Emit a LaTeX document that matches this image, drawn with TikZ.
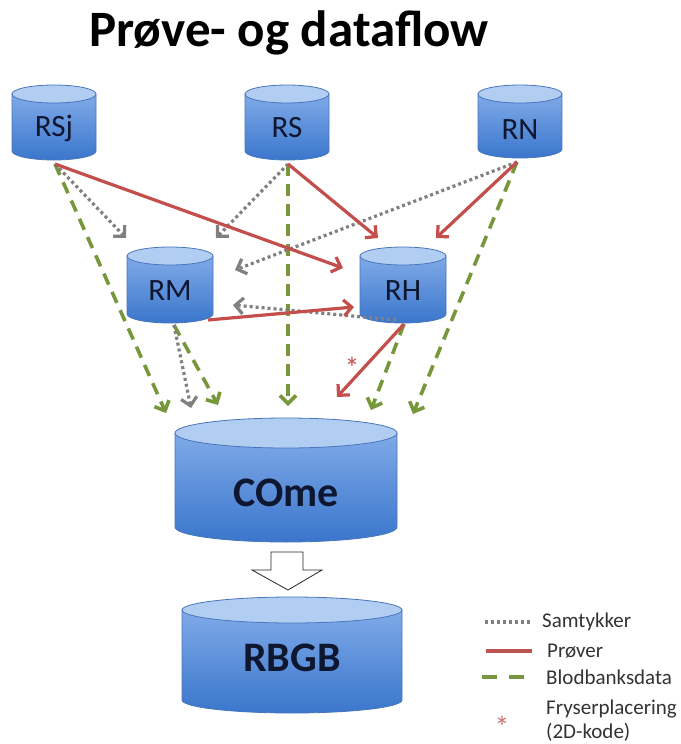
\documentclass[tikz,border=0pt]{standalone}
\usepackage{fontspec}
\setmainfont{Carlito}
\usetikzlibrary{arrows.meta}

\definecolor{dbline}{RGB}{72,118,188}
\definecolor{dbtop}{RGB}{178,205,242}
\definecolor{dbhi}{RGB}{128,170,232}
\definecolor{dblo}{RGB}{58,118,204}
\definecolor{dbtext}{RGB}{14,22,48}
\definecolor{samt}{RGB}{128,128,128}
\definecolor{prov}{RGB}{196,78,76}
\definecolor{blod}{RGB}{118,152,58}

% database cylinder: name, cx, top, bottom, half width, ry, label y, font, label
\newcommand\dbcyl[9]{%
  \shade[top color=dbhi, bottom color=dblo, draw=dbline, line width=0.8pt]
    (#2-#5,#3+#6) -- (#2-#5,#4-#6)
    arc[start angle=180, end angle=0, x radius=#5, y radius=#6]
    -- (#2+#5,#3+#6) -- cycle;
  \filldraw[fill=dbtop, draw=dbline, line width=0.8pt]
    (#2,#3+#6) ellipse[x radius=#5, y radius=#6];
  \node[inner sep=0, minimum width=2*#5 pt, minimum height=(#4-#3)*1pt]
    (#1) at (#2,{(#3+#4)/2}) {};
  \node[text=dbtext, font=#8, inner sep=0] (#1-lbl) at (#2,#7) {#9};
}

\tikzset{
  tipbarb/.style={-{Straight Barb[length=8pt, width=16pt]}},
  samtline/.style={draw=samt, line width=3.2pt, dash pattern=on 3pt off 3pt},
  provline/.style={draw=prov, line width=3.2pt},
  blodline/.style={draw=blod, line width=3.6pt, dash pattern=on 12pt off 8pt},
  samtarrow/.style={samtline, tipbarb},
  provarrow/.style={provline, tipbarb},
  blodarrow/.style={blodline, tipbarb},
  legendtext/.style={anchor=west, inner sep=0, text=black!80, font=\fontsize{21}{23}\selectfont},
}

\begin{document}
\begin{tikzpicture}[x=1pt, y=-1pt]
\useasboundingbox (0,0) rectangle (680,744);
\fill[white] (0,0) rectangle (680,744);

% title
\node[anchor=base, inner sep=0, font=\fontsize{51}{54}\selectfont\bfseries] (title) at (289,46) {Prøve- og dataflow};

% databases
\def\small{\fontsize{31}{33}\selectfont}
\def\big{\fontsize{42}{45}\selectfont\bfseries}
\dbcyl{RSj}{54}{85}{160}{42}{9}{128}{\small}{RSj}
\dbcyl{RS}{287}{85}{160}{42}{9}{128}{\small}{RS}
\dbcyl{RN}{520}{85}{158}{42}{9}{130}{\small}{RN}
\dbcyl{RM}{170}{247}{323}{43}{9}{291}{\small}{RM}
\dbcyl{RH}{403}{247}{323}{43}{9}{291}{\small}{RH}
\dbcyl{COme}{286}{418}{542}{111}{15}{493}{\big}{COme}
\dbcyl{RBGB}{292}{597}{713}{110}{13}{658}{\big}{RBGB}

% connector end points
\coordinate (RSj-out) at (55,164);
\coordinate (RS-out)  at (288,164);
\coordinate (RN-out)  at (517,162);
\coordinate (RM-out)  at (174,325);
\coordinate (RM-outr) at (208,320);
\coordinate (RH-out)  at (404,324);
\coordinate (RH-outl) at (396,320);

\coordinate (RM-tl) at (126,238);
\coordinate (RM-tr) at (216,238);
\coordinate (RM-r1) at (235,270);
\coordinate (RM-r2) at (233,305);
\coordinate (RH-l1) at (343,268);
\coordinate (RH-l2) at (354,307);
\coordinate (RH-tl) at (378,238);
\coordinate (RH-tr) at (436,238);

\coordinate (CO-1) at (166,413);
\coordinate (CO-2) at (191,408);
\coordinate (CO-3) at (218,405);
\coordinate (CO-4) at (288,406);
\coordinate (CO-5) at (337,397);
\coordinate (CO-6) at (371,410);
\coordinate (CO-7) at (413,414);

% Blodbanksdata
\draw[blodarrow] (RSj-out) -- (CO-1);
\draw[blodarrow] (RS-out) -- (CO-4);
\draw[blodarrow] (RN-out) -- (CO-7);
\draw[blodarrow] (RM-out) -- (CO-3);
\draw[blodarrow] (RH-out) -- (CO-6);

% Samtykker
\draw[samtarrow] (RSj-out) -- (RM-tl);
\draw[samtarrow] (RS-out) -- (RM-tr);
\draw[samtarrow] (RN-out) -- (RM-r1);
\draw[samtarrow] (RH-outl) -- (RM-r2);
\draw[samtarrow] (RM-out) -- (CO-2);

% Prøver
\draw[provarrow] (RSj-out) -- (RH-l1);
\draw[provarrow] (RS-out) -- (RH-tl);
\draw[provarrow] (RN-out) -- (RH-tr);
\draw[provarrow] (RM-outr) -- (RH-l2);
\draw[provarrow] (RH-out) -- (CO-5);
\node[text=prov, inner sep=0, font=\fontsize{30}{32}\selectfont] (star) at (352,368) {*};

% transfer arrow COme -> RBGB
\draw[fill=white, draw=black!85, line width=0.8pt]
  (271,552) -- (303,552) -- (303,570) -- (322,570) -- (288,590)
  -- (252,570) -- (271,570) -- cycle;

% legend
\coordinate (lg1a) at (485,622); \coordinate (lg1b) at (532,622);
\coordinate (lg2a) at (486,651); \coordinate (lg2b) at (532,651);
\coordinate (lg3a) at (482,677); \coordinate (lg3b) at (528,677);
\draw[samtline] (lg1a) -- (lg1b);
\draw[draw=prov!85!gray, line width=3.8pt] (lg2a) -- (lg2b);
\draw[draw=blod!90!gray, line width=3.8pt, dash pattern=on 15pt off 12pt] (lg3a) -- (lg3b);
\node[legendtext] (lt1) at (542,622) {Samtykker};
\node[legendtext] (lt2) at (547,651) {Prøver};
\node[legendtext] (lt3) at (546,677) {Blodbanksdata};
\node[legendtext] (lt4) at (546,709) {Fryserplacering};
\node[legendtext] (lt5) at (546,732) {(2D-kode)};
\node[text=prov!80!white, inner sep=0, font=\fontsize{30}{32}\selectfont] (lgstar) at (502,727) {*};
\end{tikzpicture}
\end{document}
